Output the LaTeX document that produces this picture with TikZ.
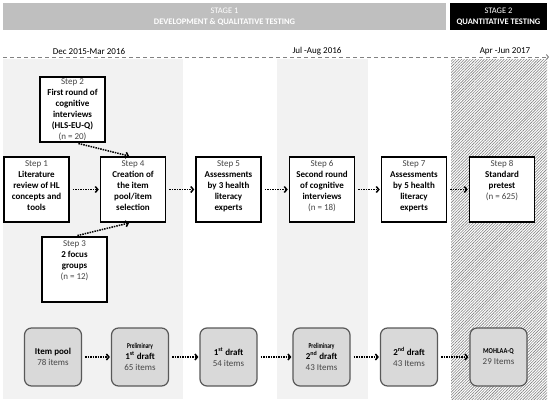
\documentclass[tikz,border=0pt]{standalone}
\usepackage{fontspec}
\setmainfont{Carlito}
\usetikzlibrary{arrows.meta,patterns.meta,positioning}
\definecolor{stagegray}{RGB}{191,191,191}
\definecolor{panelgray}{RGB}{242,242,242}
\definecolor{draftgray}{RGB}{217,217,217}
\definecolor{draftline}{RGB}{89,89,89}
\definecolor{textgray}{RGB}{70,70,70}
\definecolor{hatchgray}{RGB}{130,130,130}
\newcommand{\stepno}[1]{{\color{textgray}Step #1}}
\newcommand{\nsize}[1]{{\color{textgray}(n = #1)}}
\newcommand{\squeezed}[2][0.72]{{\fontsize{7.5}{8}\selectfont\scalebox{#1}[1]{\textbf{#2}}}}
\tikzset{
  stepbox/.style={draw, line width=1.5pt, fill=white, minimum width=65pt, minimum height=65pt, inner sep=0pt},
  steptext/.style={anchor=north, align=center, inner sep=0pt, yshift=-4pt, font=\fontsize{9}{11}\selectfont},
  draftbox/.style={draw=draftline, line width=1.2pt, fill=draftgray, rounded corners=7pt, minimum width=57pt, minimum height=58pt, align=center, inner sep=0pt, font=\fontsize{9}{11}\selectfont},
  flow/.style={line width=1.5pt, dash pattern=on 1.5pt off 1pt, -{Straight Barb[length=2.5pt,width=6pt]}, shorten <=3pt, shorten >=1pt},
  stagebar/.style={minimum height=27pt, text=white, align=center, inner sep=0pt, font=\fontsize{8.5}{11}\selectfont},
  period/.style={font=\fontsize{9}{11}\selectfont},
}
\begin{document}
\begin{tikzpicture}[x=1pt,y=-1pt]
     \useasboundingbox (0,0) rectangle (550,405);
     % background panels
     \fill [panelgray] (3,59) rectangle (183,399);
     \fill [panelgray] (277,59) rectangle (368,399);
     \fill [white] (451,59) rectangle (547,399);
     \fill [pattern={Lines[angle=45,distance=2pt,line width=0.6pt]}, pattern color=hatchgray] (451,59) rectangle (547,399);
     % stage bars
     \node[stagebar, fill=stagegray, minimum width=443pt] (stage1) at (224.5,16.5) {STAGE 1\\\textbf{DEVELOPMENT \& QUALITATIVE TESTING}};
     \node[stagebar, fill=black, minimum width=97pt] (stage2) at (498.5,16.5) {STAGE 2\\\textbf{QUANTITATIVE TESTING}};
     % timeline
     \coordinate (tstart) at (3,57);
     \coordinate (tend) at (549,57);
     \draw [hatchgray, line width=1pt, dash pattern=on 4pt off 3pt, -{Straight Barb[length=2pt,width=5pt]}] (tstart) -- (tend);
     \node[period] (per1) at (89,51) {Dec 2015-Mar 2016};
     \node[period] (per2) at (317,51) {Jul -Aug 2016};
     \node[period] (per3) at (505,51) {Apr -Jun 2017};
     % steps
     \node[stepbox, label={[steptext]north:{\stepno{1}\\\textbf{Literature}\\\textbf{review of HL}\\\textbf{concepts and}\\\textbf{tools}}}] (step1) at (36.5,189.5) {};
     \node[stepbox, label={[steptext,yshift=1.5pt]north:{\stepno{2}\\\textbf{First round of}\\\textbf{cognitive}\\\textbf{interviews}\\\textbf{(HLS-EU-Q)}\\\nsize{20}}}] (step2) at (72.5,109.5) {};
     \node[stepbox, label={[steptext]north:{\stepno{3}\\\textbf{2 focus}\\\textbf{groups}\\\nsize{12}}}] (step3) at (74.5,269.5) {};
     \node[stepbox, label={[steptext]north:{\stepno{4}\\\textbf{Creation of}\\\textbf{the item}\\\textbf{pool/item}\\\textbf{selection}}}] (step4) at (133,189.5) {};
     \node[stepbox, label={[steptext]north:{\stepno{5}\\\textbf{Assessments}\\\textbf{by 3 health}\\\textbf{literacy}\\\textbf{experts}}}] (step5) at (228.5,189.5) {};
     \node[stepbox, label={[steptext]north:{\stepno{6}\\\textbf{Second round}\\\textbf{of cognitive}\\\textbf{interviews}\\\nsize{18}}}] (step6) at (322,189.5) {};
     \node[stepbox, label={[steptext]north:{\stepno{7}\\\textbf{Assessments}\\\textbf{by 5 health}\\\textbf{literacy}\\\textbf{experts}}}] (step7) at (414,189.5) {};
     \node[stepbox, label={[steptext]north:{\stepno{8}\\\textbf{Standard}\\\textbf{pretest}\\\nsize{625}}}] (step8) at (502,189.5) {};
     % drafts
     \node[draftbox] (pool) at (53,357) {\textbf{Item pool}\\{\color{textgray}78 items}};
     \node[draftbox] (predraft1) at (140,357) {\squeezed{Preliminary}\\\textbf{1\textsuperscript{st} draft}\\{\color{textgray}65 items}};
     \node[draftbox] (draft1) at (228.5,357) {\textbf{1\textsuperscript{st} draft}\\{\color{textgray}54 items}};
     \node[draftbox] (predraft2) at (321.5,357) {\squeezed{Preliminary}\\\textbf{2\textsuperscript{nd} draft}\\{\color{textgray}43 Items}};
     \node[draftbox] (draft2) at (409,357) {\textbf{2\textsuperscript{nd} draft}\\{\color{textgray}43 Items}};
     \node[draftbox] (final) at (498.5,357) {\squeezed[0.85]{MOHLAA-Q}\\{\color{textgray}29 Items}};
     % arrows
     \draw [flow] (step1) -- (step4);
     \draw [flow] ([xshift=3pt]step2.south) -- ([xshift=-3pt]step4.north);
     \draw [flow] (step3.north) -- ([xshift=-3pt]step4.south);
     \draw [flow] (step4) -- (step5);
     \draw [flow] (step5) -- (step6);
     \draw [flow] (step6) -- (step7);
     \draw [flow] (step7) -- (step8);
     \draw [flow] (pool) -- (predraft1);
     \draw [flow] (predraft1) -- (draft1);
     \draw [flow] (draft1) -- (predraft2);
     \draw [flow] (predraft2) -- (draft2);
     \draw [flow] (draft2) -- (final);
  \end{tikzpicture}
\end{document}
